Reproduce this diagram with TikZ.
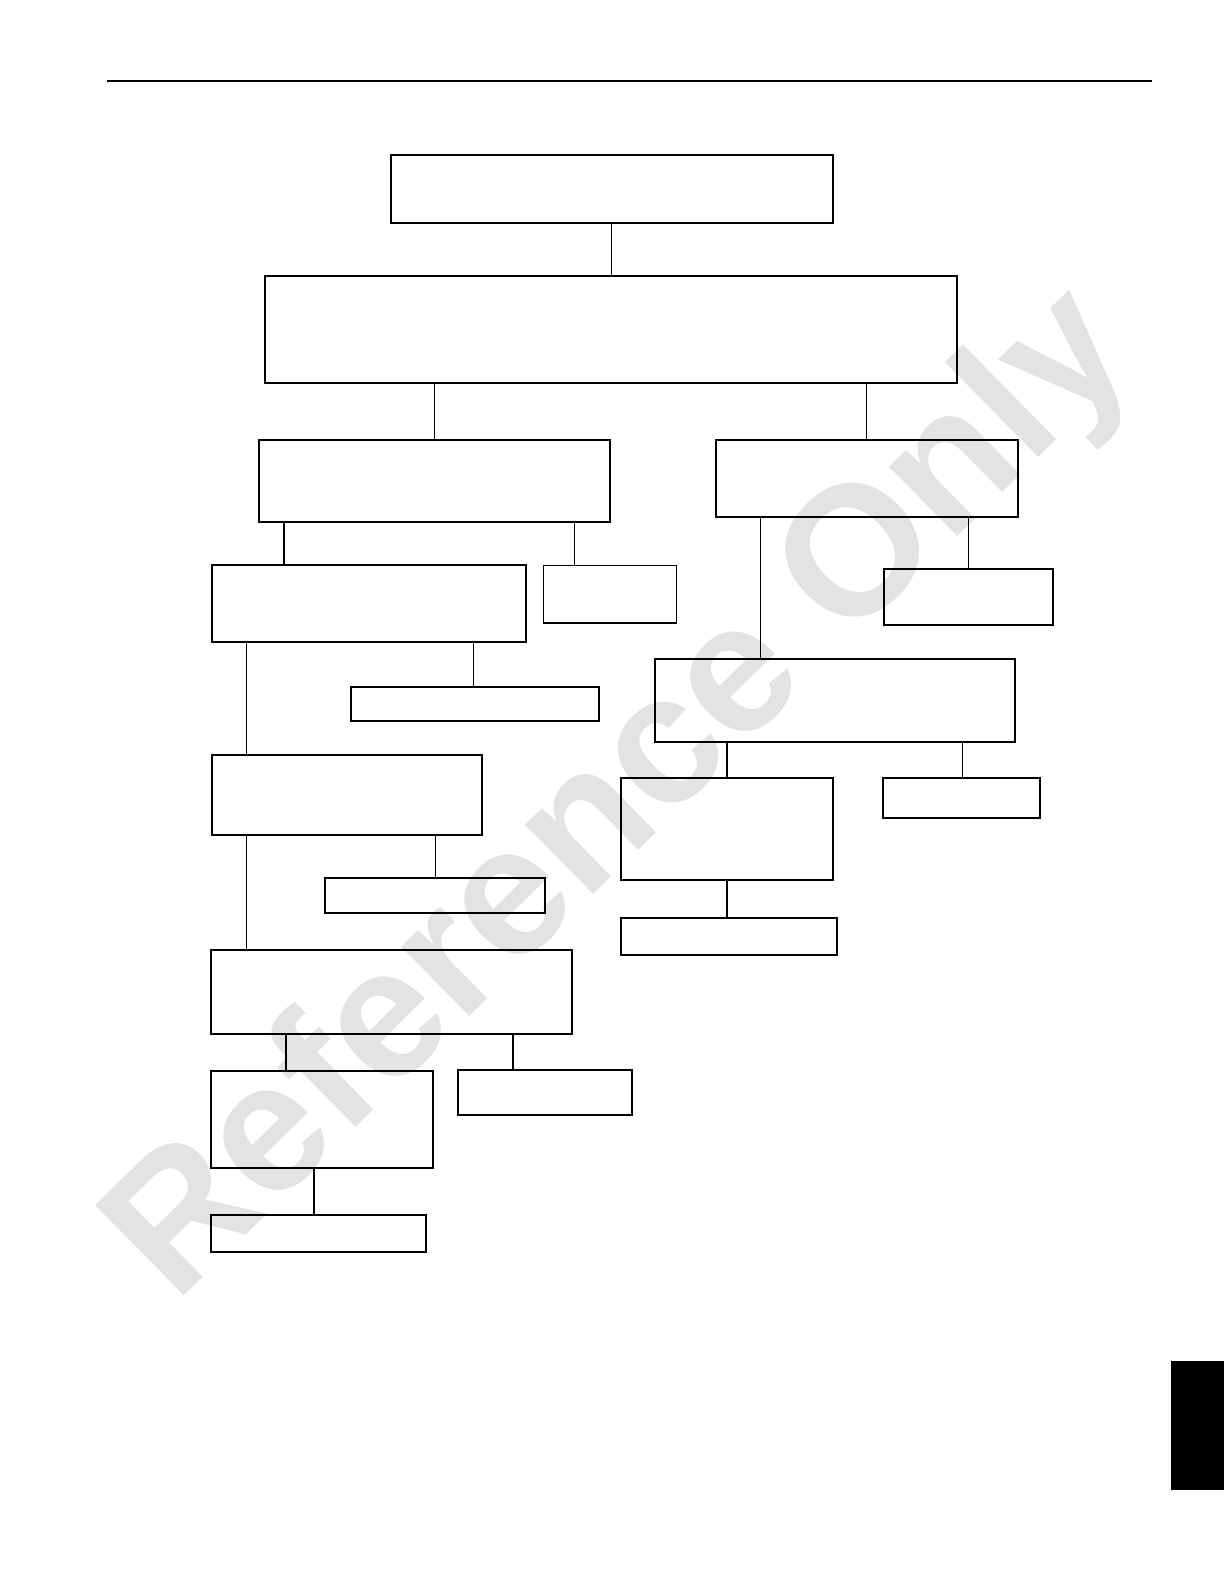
\documentclass[tikz,border=0pt]{standalone}
\usepackage{fontspec}
\newfontfamily\wmfont{Liberation Sans}
\usetikzlibrary{fit}
\definecolor{wmgray}{gray}{0.89}
\tikzset{
  box/.style={draw=black, line width=2pt, inner sep=0pt, outer sep=0pt},
  thinbox/.style={box, line width=1.4pt},
  conn/.style={draw=black, line width=1.6pt},
  thinconn/.style={draw=black, line width=1pt},
  wm/.style={text=wmgray, font=\wmfont\bfseries\fontsize{184}{184}\selectfont, inner sep=0pt},
  rule/.style={draw=black, line width=2pt},
}
\newcommand{\bx}[6][box]{\node[#1, fit={(#3,#4)(#5,#6)}] (#2) {};}
\newcommand{\cn}[4][conn]{\coordinate (x#2#3) at (#4,0);
  \draw[#1] (#2.south -| x#2#3) -- (#3.north -| x#2#3);}
\begin{document}
\begin{tikzpicture}[x=1.01pt,y=-1.01pt]
\useasboundingbox (0,0) rectangle (1211.88,1568.32);
% watermark
\node[wm, rotate=44.5, anchor=base west] (wmark) at (174,1292) {Reference Only};
% header rule
\coordinate (ruleL) at (106,80.2);
\coordinate (ruleR) at (1141,80.2);
\draw[rule] (ruleL) -- (ruleR);
% side tab
\fill[black] (1159.4,1347.5) rectangle (1211.88,1475.2);
% boxes
\bx{A}{387}{153}{825}{221}
\bx{B}{262}{273}{948}{379}
\bx{C}{256}{436}{604}{517}
\bx{D}{709}{436}{1008}{512}
\bx{E}{210}{559}{521}{636}
\bx[thinbox]{F}{538}{560}{670}{617}
\bx{G}{875}{563}{1043}{619}
\bx{H}{649}{652}{1005}{735}
\bx{I}{348}{680}{593}{714}
\bx{J}{210}{748}{477}{827}
\bx{K}{615}{770}{825}{871}
\bx{L}{874}{770}{1030}{810}
\bx{M}{615}{909}{829}{946}
\bx{N}{322}{869}{540}{904}
\bx{O}{209}{941}{566}{1024}
\bx{P}{209}{1060}{429}{1156}
\bx{Q}{453}{1059}{626}{1104}
\bx{R}{209}{1203}{422}{1240}
% connectors
\cn[thinconn]{A}{B}{605}
\cn{B}{C}{430}
\cn[thinconn]{B}{D}{858}
\cn{C}{E}{281}
\cn{C}{F}{569}
\cn{D}{H}{753}
\cn{D}{G}{959}
\cn{E}{J}{244}
\cn{E}{I}{469}
\cn{H}{K}{720}
\cn{H}{L}{953}
\cn{K}{M}{720}
\cn{J}{O}{244}
\cn{J}{N}{431}
\cn{O}{P}{283}
\cn{O}{Q}{508}
\cn{P}{R}{311}
\end{tikzpicture}
\end{document}
